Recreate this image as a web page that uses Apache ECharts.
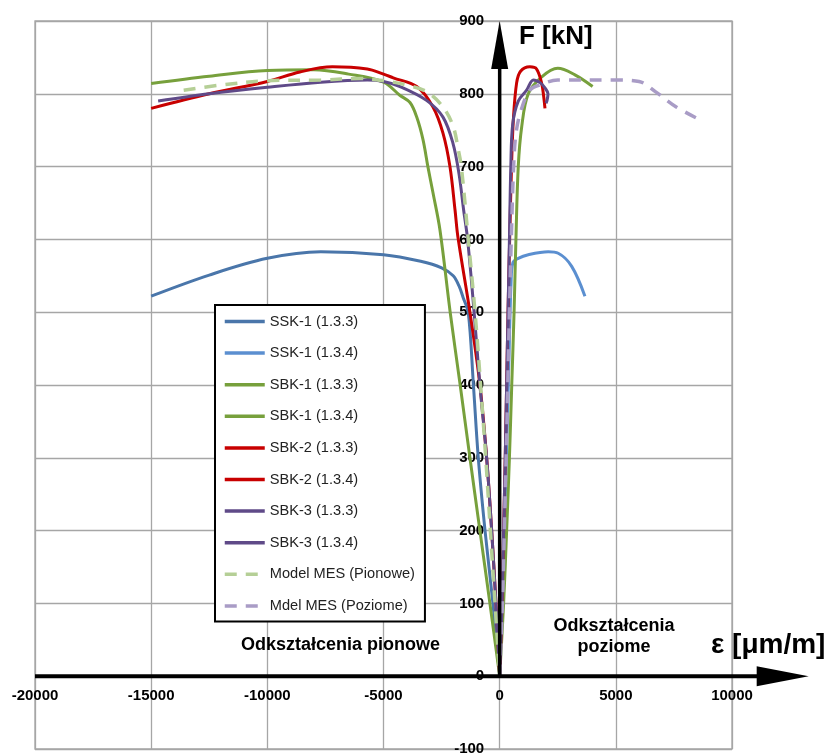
<!DOCTYPE html>
<html>
<head>
<meta charset="utf-8">
<script src="https://cdn.jsdelivr.net/npm/echarts@6/dist/echarts.min.js"></script>
<style>
  html, body { margin: 0; padding: 0; background: #fff; }
  #chart { width: 830px; height: 755px; }
</style>
</head>
<body>
<div id="chart"></div>
<script>
// Axis ranges (strain in µm/m, force in kN)
const X_MIN = -20000, X_MAX = 10000, X_STEP = 5000;
const Y_MIN = -100, Y_MAX = 900, Y_STEP = 100;
const X_ARROW_END = 13300;

// Series names, in legend order
const seriesNames = [
  'SSK-1 (1.3.3)', 'SSK-1 (1.3.4)',
  'SBK-1 (1.3.3)', 'SBK-1 (1.3.4)',
  'SBK-2 (1.3.3)', 'SBK-2 (1.3.4)',
  'SBK-3 (1.3.3)', 'SBK-3 (1.3.4)',
  'Model MES (Pionowe)', 'Mdel MES (Poziome)'
];

// [strain, force] pairs
const ssk1_133 = [[-15000,522],[-12500,551],[-10000,574],[-7700,583],[-5000,579],[-3400,570],[-2500,561],[-2000,550],[-1750,536],[-1570,520],[-1350,499],[-1130,400],[-920,300],[-630,200],[-290,100],[0,0]];
const ssk1_134 = [[0,0],[150,150],[290,300],[410,450],[490,540],[570,568],[800,574],[1230,579],[2090,583],[2520,581],[3100,563],[3670,522]];

const sbk1_133 = [[-15000,814],[-12500,824],[-10000,832],[-8000,833],[-6500,827],[-5000,816],[-4300,798],[-3860,788],[-3570,768],[-3300,737],[-3090,700],[-2870,664],[-2570,613],[-2130,500],[-1700,400],[-1280,300],[-850,200],[-420,100],[0,0]];
const sbk1_134 = [[0,0],[170,100],[300,200],[420,300],[520,400],[620,500],[700,600],[800,700],[950,755],[1230,800],[1800,823],[2500,835],[3240,826],[4000,810]];

const sbk2_133 = [[-15000,780],[-12500,800],[-10000,817],[-8600,830],[-7200,837],[-5700,834],[-5000,827],[-4580,822],[-3570,810],[-2870,782],[-2440,746],[-2140,700],[-1920,640],[-1800,604],[-1280,500],[-850,400],[-560,300],[-344,200],[-160,100],[0,0]];
const sbk2_134 = [[0,0],[100,100],[170,200],[240,300],[300,400],[360,500],[430,600],[510,700],[590,765],[730,815],[900,831],[1300,837],[1590,834],[1810,814],[1900,795],[1950,780]];

const sbk3_133 = [[-14700,790],[-12500,800],[-10000,809],[-7700,816],[-5700,819],[-5000,817],[-4290,810],[-3150,791],[-2440,768],[-2010,732],[-1750,690],[-1550,640],[-1380,600],[-1100,500],[-850,400],[-560,300],[-344,200],[-160,100],[0,0]];
const sbk3_134 = [[0,0],[100,100],[170,200],[240,300],[300,400],[360,500],[420,600],[480,700],[560,758],[800,790],[1160,805],[1450,819],[1750,815],[1950,808],[2080,800],[2040,791],[1990,787]];

const mes_pion = [[-13600,805],[-12000,812],[-10000,818],[-7700,819],[-6000,821],[-5000,818],[-4000,812],[-3150,803],[-2440,782],[-2000,755],[-1780,723],[-1650,700],[-1350,600],[-1060,500],[-820,400],[-600,300],[-400,200],[-200,100],[0,0]];
const mes_poz = [[0,0],[120,100],[200,200],[280,300],[350,400],[420,500],[500,600],[600,700],[700,745],[900,775],[1300,805],[1800,813],[2500,819],[5000,819],[6000,817],[6700,803],[7600,782],[8700,763]];

const seriesData = [ssk1_133, ssk1_134, sbk1_133, sbk1_134, sbk2_133, sbk2_134, sbk3_133, sbk3_134, mes_pion, mes_poz];
const seriesColors = ['#4A76AA', '#5B8FD0', '#77A03C', '#77A03C', '#C80000', '#C80000', '#5F4A88', '#5F4A88', '#B5CF96', '#A99CC6'];
const seriesDashed = [false, false, false, false, false, false, false, false, true, true];

const FONT = '"Liberation Sans", Arial, sans-serif';

const chart = echarts.init(document.getElementById('chart'), null, { renderer: 'canvas' });

const series = seriesNames.map((name, i) => ({
  name: name,
  type: 'line',
  data: seriesData[i],
  symbol: 'none',
  showSymbol: false,
  smooth: 0.35,
  z: 2 + i,
  lineStyle: {
    color: seriesColors[i],
    width: seriesDashed[i] ? 3.5 : 3,
    type: seriesDashed[i] ? [12, 9] : 'solid'
  },
  itemStyle: { color: seriesColors[i] },
  emphasis: { disabled: true }
}));

const gridLine = { color: '#A6A6A6', width: 1.3 };
const tickFont = { color: '#000', fontSize: 15, fontWeight: 'bold', fontFamily: FONT };

chart.setOption({
  animation: false,
  backgroundColor: '#fff',
  grid: {
    left: 35, right: 98, top: 21, bottom: 6,
    show: true, borderColor: '#A6A6A6', borderWidth: 1.3,
    containLabel: false, outerBoundsMode: 'none'
  },
  xAxis: {
    type: 'value', min: X_MIN, max: X_MAX, interval: X_STEP,
    position: 'bottom',
    axisLine: { show: false, onZero: false },
    axisTick: { show: false },
    axisLabel: Object.assign({ margin: 12.5, formatter: v => String(v) }, tickFont),
    splitLine: { show: true, lineStyle: gridLine }
  },
  yAxis: {
    type: 'value', min: Y_MIN, max: Y_MAX, interval: Y_STEP,
    position: 'left',
    axisLine: { show: false, onZero: false },
    axisTick: { show: false },
    axisLabel: Object.assign({ margin: 15.5, formatter: v => String(v) }, tickFont),
    splitLine: { show: true, lineStyle: gridLine }
  },
  legend: {
    data: seriesNames,
    orient: 'vertical',
    left: 215, top: 305,
    itemWidth: 40, itemHeight: 14, itemGap: 16.6,
    padding: [9, 10, 8, 8],
    borderColor: '#000', borderWidth: 2,
    backgroundColor: '#fff',
    selectedMode: false,
    itemStyle: { opacity: 0 },
    lineStyle: { width: 3.5 },
    textStyle: { fontSize: 14.6, color: '#222', fontFamily: FONT },
    z: 20
  },
  series: series
});

// Move both axes (and their tick labels) so they cross at the origin
const origin = chart.convertToPixel({ gridIndex: 0 }, [0, 0]);
const corner = chart.convertToPixel({ gridIndex: 0 }, [X_MIN, Y_MIN]);
chart.setOption({
  xAxis: { offset: -(corner[1] - origin[1]) },
  yAxis: { offset: -(origin[0] - corner[0]) }
});

// Arrowed axes through the origin, plus annotation texts
function axisGraphics() {
  const o = chart.convertToPixel({ gridIndex: 0 }, [0, 0]);
  const left = chart.convertToPixel({ gridIndex: 0 }, [X_MIN, 0]);
  const right = chart.convertToPixel({ gridIndex: 0 }, [X_ARROW_END, 0]);
  const top = chart.convertToPixel({ gridIndex: 0 }, [0, Y_MAX]);
  const xHeadLen = 52, xHeadHalf = 10;
  const yHeadLen = 48, yHeadHalf = 8.5;
  return [
    { type: 'line', z: 50, shape: { x1: left[0], y1: o[1], x2: right[0] - xHeadLen + 2, y2: o[1] },
      style: { stroke: '#000', lineWidth: 4 } },
    { type: 'polygon', z: 50, shape: { points: [[right[0] - xHeadLen, o[1] - xHeadHalf], [right[0], o[1]], [right[0] - xHeadLen, o[1] + xHeadHalf]] },
      style: { fill: '#000' } },
    { type: 'line', z: 50, shape: { x1: o[0], y1: o[1], x2: o[0], y2: top[1] + yHeadLen - 2 },
      style: { stroke: '#000', lineWidth: 3.5 } },
    { type: 'polygon', z: 50, shape: { points: [[o[0] - yHeadHalf, top[1] + yHeadLen], [o[0], top[1]], [o[0] + yHeadHalf, top[1] + yHeadLen]] },
      style: { fill: '#000' } },
    { type: 'text', z: 50, x: 519, y: 37,
      style: { text: 'F [kN]', font: 'bold 26px ' + FONT, fill: '#000', verticalAlign: 'middle' } },
    { type: 'text', z: 50, x: 711, y: 645,
      style: { text: 'ε [μm/m]', font: 'bold 28px ' + FONT, fill: '#000', verticalAlign: 'middle' } },
    { type: 'text', z: 50, x: 241, y: 645,
      style: { text: 'Odkształcenia pionowe', font: 'bold 18px ' + FONT, fill: '#000', verticalAlign: 'middle' } },
    { type: 'text', z: 50, x: 614, y: 637,
      style: { text: 'Odkształcenia\npoziome', font: 'bold 18px ' + FONT, fill: '#000', align: 'center', verticalAlign: 'middle', lineHeight: 21 } }
  ];
}

chart.setOption({ graphic: axisGraphics() });
</script>
</body>
</html>
